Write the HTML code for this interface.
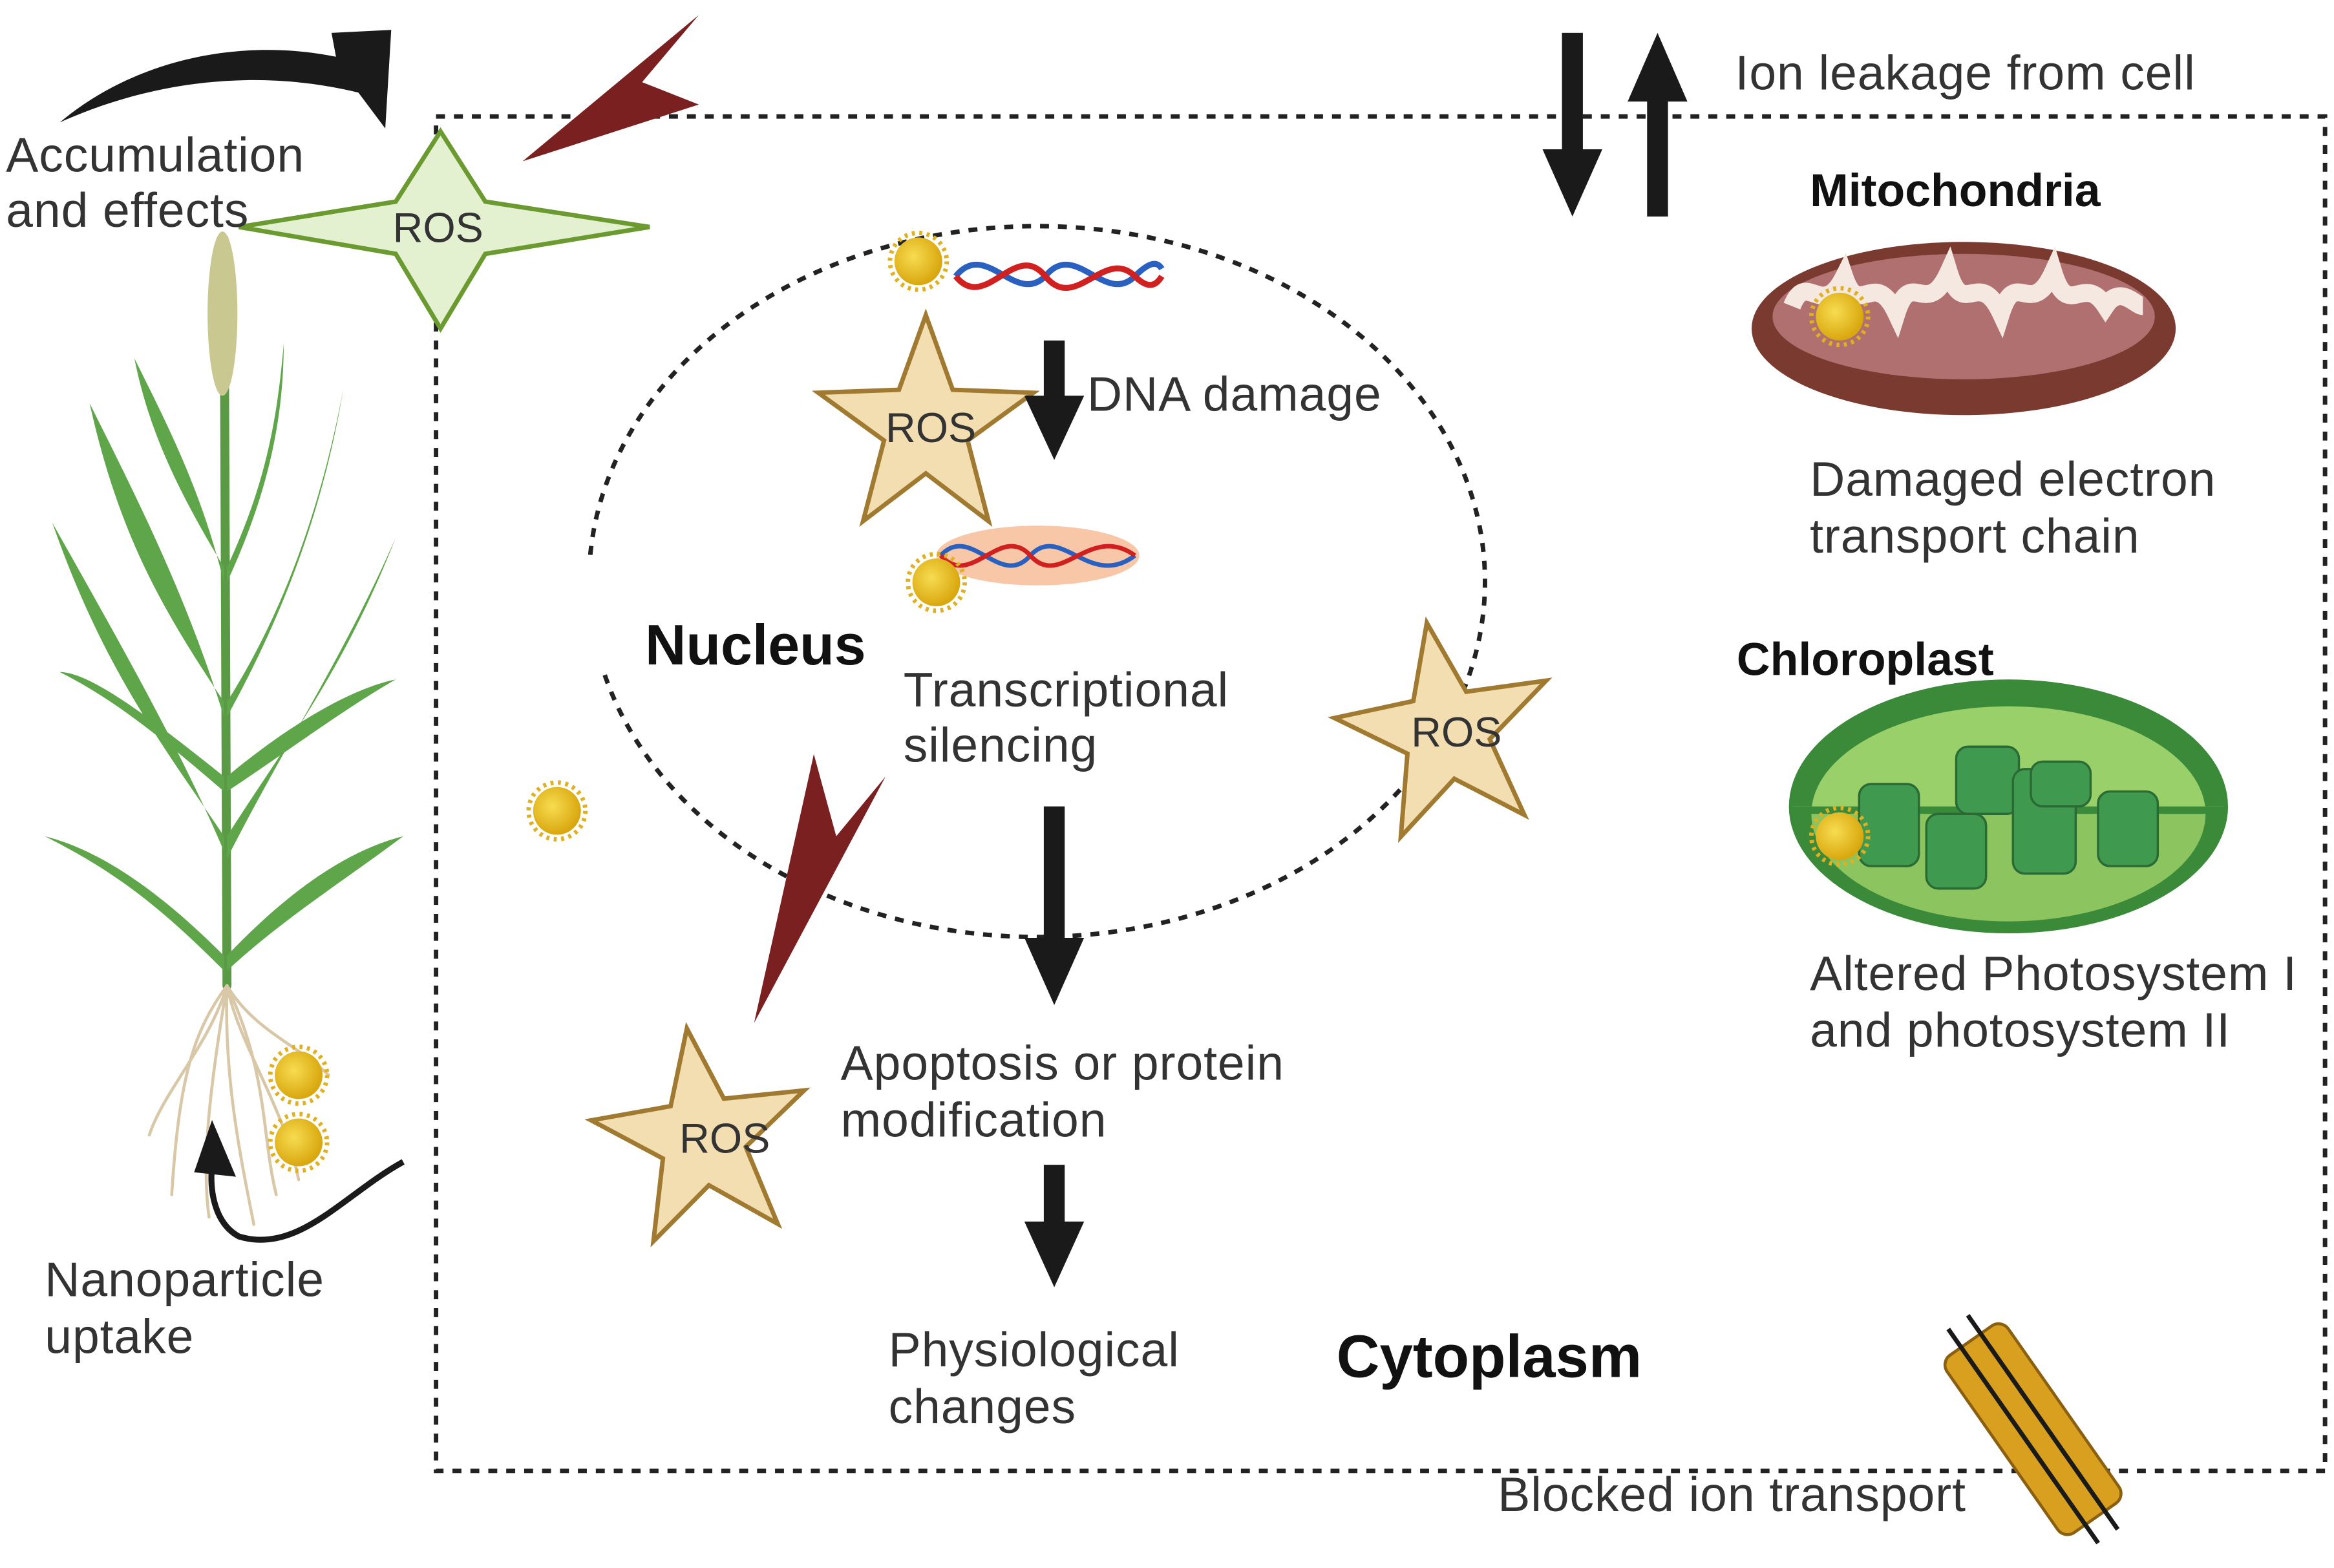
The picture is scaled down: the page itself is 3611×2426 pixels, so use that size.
<!DOCTYPE html>
<html><head><meta charset="utf-8"><style>
html,body{margin:0;padding:0;background:#fff;width:3611px;height:2426px;overflow:hidden}
svg{display:block}
text{font-family:"Liberation Sans",sans-serif;fill:#333}
.t{font-size:32.5px;letter-spacing:0.4px}
</style></head><body>
<svg width="3611" height="2426" viewBox="0 0 1563 1050" preserveAspectRatio="none" xmlns="http://www.w3.org/2000/svg">
<defs>
<radialGradient id="np" cx="40%" cy="40%" r="60%"><stop offset="0" stop-color="#f7dc50"/><stop offset="1" stop-color="#d9a70f"/></radialGradient>
<g id="nano"><circle r="16" fill="url(#np)"/><circle r="19" fill="none" stroke="#e0b020" stroke-width="3" stroke-dasharray="2 3"/></g>
<polygon id="rosstar" points="0,-72 18,-22 72,-20 28,12 42,66 0,34 -42,66 -28,12 -72,-20 -18,-22" fill="#f2deb0" stroke="#a07a30" stroke-width="3"/>
</defs>
<rect x="292" y="78" width="1265" height="907" fill="none" stroke="#222" stroke-width="3" stroke-dasharray="6 6"/>
<path d="M405,452 A300,238 0 1 0 395,375" fill="none" stroke="#222" stroke-width="3" stroke-dasharray="6 6"/>
<!-- top-left black arrow -->
<path d="M40,82 C90,40 160,25 225,38 L222,22 L262,20 L258,86 L240,62 C170,45 100,55 40,82 Z" fill="#1a1a1a"/>
<polygon points="468,10 350,108 468,70 430,55" fill="#7a2020"/>
<polygon points="295,88 325,135 435,152 325,170 295,220 265,170 160,152 265,135" fill="#e3f1d0" stroke="#6a9a30" stroke-width="3"/>
<text x="263" y="162" font-size="28">ROS</text>
<text x="4" y="115" class="t">Accumulation</text>
<text x="4" y="152" class="t">and effects</text>
<g stroke-linecap="round">
<path d="M150,160 L152,660" stroke="#5a9a45" stroke-width="6"/>
<ellipse cx="149" cy="210" rx="10" ry="55" fill="#c8c890"/>
<g fill="#5fa54a">
<path d="M150,640 C110,600 70,570 30,560 C80,585 110,610 150,650Z"/>
<path d="M152,640 C190,600 230,570 270,560 C230,590 190,615 152,650Z"/>
<path d="M150,560 C110,500 70,450 35,350 C80,430 120,500 150,570Z"/>
<path d="M152,560 C190,500 230,450 265,360 C230,440 190,500 152,575Z"/>
<path d="M150,470 C110,410 80,360 60,270 C95,340 125,400 150,480Z"/>
<path d="M152,470 C190,410 215,340 230,260 C215,350 185,420 152,480Z"/>
<path d="M150,380 C120,330 100,290 90,240 C115,290 135,330 150,390Z"/>
<path d="M152,380 C175,330 185,290 190,230 C190,290 175,340 152,390Z"/>
<path d="M150,520 C100,480 60,450 40,450 C80,470 115,500 150,530Z"/>
<path d="M152,520 C200,480 240,460 265,455 C230,475 190,505 152,530Z"/>
</g>
<g stroke="#d8c8a8" stroke-width="2" fill="none">
<path d="M152,660 C140,700 110,730 100,760"/><path d="M152,660 C160,700 190,740 200,790"/>
<path d="M152,660 C150,720 160,770 170,820"/><path d="M152,660 C130,690 120,720 115,800"/>
<path d="M152,660 C170,690 200,700 220,720"/><path d="M152,660 C140,730 135,780 140,815"/>
<path d="M152,660 C180,720 175,760 185,800"/>
</g>
</g>
<use href="#nano" x="200" y="720"/><use href="#nano" x="200" y="765"/>
<path d="M270,778 C230,800 200,840 160,828 C145,820 140,800 142,780" fill="none" stroke="#1a1a1a" stroke-width="4"/>
<polygon points="130,785 142,750 158,788" fill="#1a1a1a"/>
<text x="30" y="868" class="t">Nanoparticle</text>
<text x="30" y="906" class="t">uptake</text>
<rect x="1046" y="22" width="14" height="80" fill="#1a1a1a"/><polygon points="1033,100 1073,100 1053,145" fill="#1a1a1a"/>
<rect x="1103" y="65" width="14" height="80" fill="#1a1a1a"/><polygon points="1090,68 1130,68 1110,22" fill="#1a1a1a"/>
<text x="1162" y="60" class="t">Ion leakage from cell</text>
<use href="#nano" x="615" y="175"/>
<path d="M640,185 C660,160 680,205 700,185 C720,160 740,205 760,185 C770,175 775,175 778,180" fill="none" stroke="#2a60c0" stroke-width="4"/>
<path d="M640,185 C660,210 680,160 700,185 C720,210 740,165 760,185 C770,195 775,190 778,185" fill="none" stroke="#d02020" stroke-width="4"/>
<use href="#rosstar" x="620" y="283"/>
<text x="593" y="296" font-size="28">ROS</text>
<rect x="699" y="228" width="14" height="40" fill="#1a1a1a"/><polygon points="686,265 726,265 706,308" fill="#1a1a1a"/>
<text x="728" y="275" class="t">DNA damage</text>
<ellipse cx="695" cy="372" rx="68" ry="20" fill="#f7c7a8"/>
<path d="M630,372 C650,350 670,395 690,372 C710,350 730,395 760,372" fill="none" stroke="#2a60c0" stroke-width="3"/>
<path d="M630,372 C650,395 670,350 690,372 C710,395 730,350 760,372" fill="none" stroke="#d02020" stroke-width="3"/>
<use href="#nano" x="627" y="390"/>
<text x="432" y="445" font-size="38" font-weight="bold" style="fill:#111">Nucleus</text>
<text x="605" y="473" class="t">Transcriptional</text>
<text x="605" y="510" class="t">silencing</text>
<use href="#rosstar" x="968" y="488" transform="rotate(-10 968 488)"/>
<text x="945" y="500" font-size="28">ROS</text>
<use href="#nano" x="373" y="543"/>
<polygon points="545,505 505,685 593,520 560,560" fill="#7a2020"/>
<rect x="699" y="540" width="14" height="90" fill="#1a1a1a"/><polygon points="686,628 726,628 706,673" fill="#1a1a1a"/>
<use href="#rosstar" x="470" y="760" transform="rotate(-8 470 760)"/>
<text x="455" y="772" font-size="28">ROS</text>
<text x="563" y="723" class="t">Apoptosis or protein</text>
<text x="563" y="761" class="t">modification</text>
<rect x="699" y="780" width="14" height="40" fill="#1a1a1a"/><polygon points="686,818 726,818 706,862" fill="#1a1a1a"/>
<text x="595" y="915" class="t">Physiological</text>
<text x="595" y="953" class="t">changes</text>
<text x="895" y="922" font-size="40" font-weight="bold" style="fill:#111">Cytoplasm</text>
<text x="1212" y="138" font-size="31" font-weight="bold" style="fill:#111">Mitochondria</text>
<ellipse cx="1315" cy="220" rx="142" ry="58" fill="#7a3a30"/>
<ellipse cx="1315" cy="212" rx="128" ry="42" fill="#b07070"/>
<path d="M1200,205 C1210,180 1220,215 1235,185 C1245,215 1255,178 1270,210 C1280,178 1290,215 1305,182 C1315,215 1325,178 1340,210 C1350,178 1360,215 1375,182 C1385,215 1395,182 1410,205 C1420,190 1430,205 1435,205" fill="none" stroke="#f5e8e0" stroke-width="12"/>
<use href="#nano" x="1232" y="212"/>
<text x="1212" y="332" class="t">Damaged electron</text>
<text x="1212" y="370" class="t">transport chain</text>
<text x="1163" y="452" font-size="31" font-weight="bold" style="fill:#111">Chloroplast</text>
<ellipse cx="1345" cy="540" rx="147" ry="85" fill="#3a8a3a"/>
<ellipse cx="1345" cy="545" rx="132" ry="72" fill="#9ad06a"/>
<rect x="1200" y="540" width="290" height="90" fill="#fff"/>
<path d="M1198,540 A147,85 0 0 0 1492,540 Z" fill="#3a8a3a"/>
<path d="M1213,545 A132,72 0 0 0 1477,545 Z" fill="#8cc460"/>
<g fill="#3f9a4f" stroke="#2a6a35" stroke-width="1.5">
<rect x="1245" y="525" width="40" height="55" rx="8"/><rect x="1290" y="545" width="40" height="50" rx="8"/>
<rect x="1310" y="500" width="42" height="45" rx="8"/><rect x="1348" y="515" width="42" height="70" rx="8"/>
<rect x="1360" y="510" width="40" height="30" rx="8"/><rect x="1405" y="530" width="40" height="50" rx="8"/>
</g>
<use href="#nano" x="1232" y="560"/>
<text x="1212" y="663" class="t">Altered Photosystem I</text>
<text x="1212" y="701" class="t">and photosystem II</text>
<g transform="rotate(-35 1360 955)">
<rect x="1335" y="885" width="50" height="145" rx="8" fill="#d9a020" stroke="#8a6010" stroke-width="2"/>
<line x1="1352" y1="870" x2="1352" y2="1045" stroke="#1a1a1a" stroke-width="3"/>
<line x1="1368" y1="870" x2="1368" y2="1045" stroke="#1a1a1a" stroke-width="3"/>
</g>
<text x="1003" y="1012" class="t">Blocked ion transport</text>
</svg>
</body></html>
